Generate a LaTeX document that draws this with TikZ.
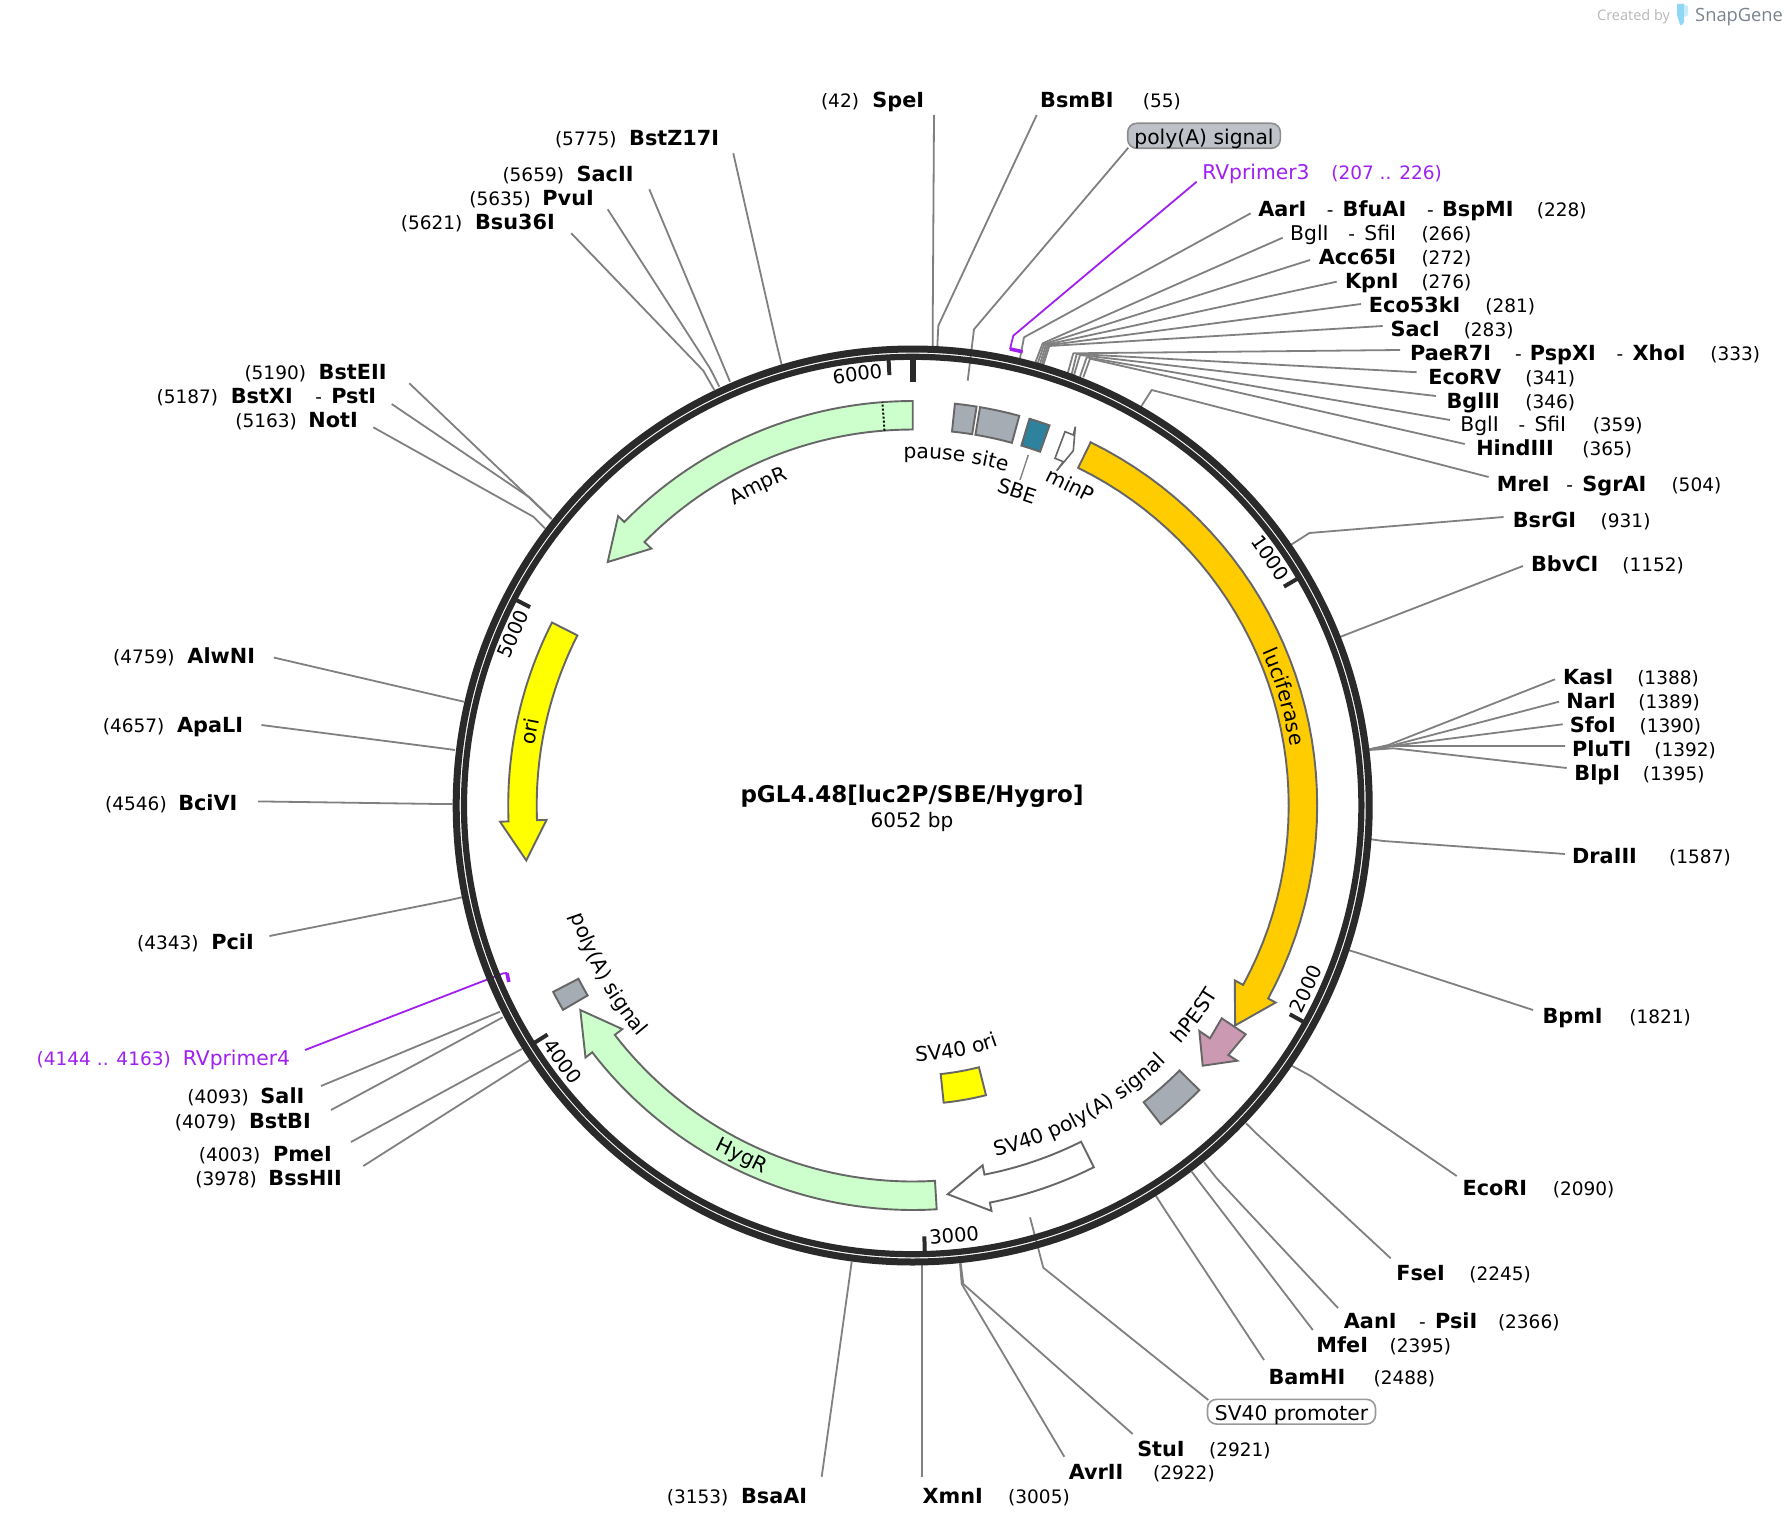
\documentclass[tikz,border=0pt]{standalone}
\usepackage{fontspec}
\setmainfont{DejaVu Sans}
\newfontfamily\markfont{Open Sans}
\usetikzlibrary{decorations.text}
\newlength\du \du=1.1416pt
\newcommand\sg[2]{\makebox[#1\du][l]{#2}}
\newcommand\B[1]{{\fontsize{20.8}{22}\selectfont\bfseries #1}}
\newcommand\R[1]{{\fontsize{20.3}{22}\selectfont #1}}
\newcommand\T[1]{{\fontsize{19.5}{22}\selectfont #1}}
\newcommand\lab[5][black]{\node[lbl,text=#1] (#2) at ({#3*1.1416},{#4*1.1416+7.3}) {#5};}
\newcommand\site[4]{\coordinate (#1o) at #2; \coordinate (#1e) at #3; \coordinate (#1c) at #4; \draw[leader] (#1o) -- (#1e) -- (#1c);}
\newcommand\arrowfeat[4]{%
 \draw[feat,fill=#4] plot[domain=#1:#2,samples=40,variable=\ang]({912.7+404.5*sin(\ang)},{805.5-404.5*cos(\ang)})
 -- ({912.7+413*sin(#2)},{805.5-413*cos(#2)})
 -- ({912.7+390.3*sin(#3)},{805.5-390.3*cos(#3)})
 -- ({912.7+366.5*sin(#2)},{805.5-366.5*cos(#2)})
 -- plot[domain=#2:#1,samples=40,variable=\ang]({912.7+376*sin(\ang)},{805.5-376*cos(\ang)}) -- cycle;}
\newcommand\blockfeat[5]{%
 \draw[feat,fill=#5] plot[domain=#1:#2,samples=12,variable=\ang]({912.7+#4*sin(\ang)},{805.5-#4*cos(\ang)})
 -- plot[domain=#2:#1,samples=12,variable=\ang]({912.7+#3*sin(\ang)},{805.5-#3*cos(\ang)}) -- cycle;}
\newcommand\curvetext[4]{\path[decorate,decoration={text along path,text align=center,text={|\fontsize{20.3}{22}\selectfont|#4}}] plot[domain=#1:#2,samples=40,variable=\ang]({912.7+#3*sin(\ang)},{805.5-#3*cos(\ang)});}
\newcommand\rlab[5]{\node[rl,rotate=#4] (#1) at ({912.7+#3*sin(#2)},{805.5-#3*cos(#2)}) {#5};}
\newcommand\tick[1]{\draw[tickline] ({912.7+431*sin(#1)},{805.5-431*cos(#1)}) -- ({912.7+448*sin(#1)},{805.5-448*cos(#1)});}
\definecolor{ringc}{HTML}{2A2A2A}
\definecolor{leadc}{HTML}{808080}
\definecolor{purp}{HTML}{A020F0}
\definecolor{featgray}{HTML}{A6ACB4}
\definecolor{green1}{HTML}{CCFFCC}
\definecolor{orange1}{HTML}{FFCC00}
\definecolor{yellow1}{HTML}{FFFF00}
\definecolor{pink1}{HTML}{CC99B2}
\definecolor{teal1}{HTML}{2E829E}
\definecolor{boxgray}{HTML}{BEC2C8}
\definecolor{snapc}{HTML}{7A838C}
\definecolor{tube1}{HTML}{8FD8F5}
\definecolor{tube2}{HTML}{C4ECFB}
\tikzset{
 lbl/.style={anchor=base west,inner sep=0pt,font=\fontsize{18.5}{22}\selectfont},
 rl/.style={anchor=base,inner sep=0pt,font=\fontsize{20.3}{22}\selectfont},
 leader/.style={draw=leadc,line width=1.8pt,line join=round},
 primer/.style={draw=purp,line width=1.8pt,line join=round},
 bracket/.style={draw=purp,line width=3.6pt},
 feat/.style={draw=black!60,line width=1.9pt,line join=miter},
 tickline/.style={draw=ringc,line width=4pt},
 tag/.style={rounded corners=9pt,inner sep=0pt,font=\fontsize{20.3}{22}\selectfont,line width=1.6pt,text height=17pt,text depth=0pt}
}
\begin{document}
\begin{tikzpicture}[x=1pt,y=-1pt]
\useasboundingbox (0,0) rectangle (1790,1530);
\fill[white] (0,0) rectangle (1790,1530);
% leaders (under the ring)
\site{SpeI}{(934,115)}{(932.7,326.7)}{(932.7,347)}
\site{BsmBI}{(1036.7,115)}{(938.3,325.7)}{(937.3,347)}
\site{polyA}{(1128.3,147.7)}{(974,329.3)}{(967.7,380.7)}
\site{AarI}{(1250.7,213.3)}{(1024,337.3)}{(1020,358.3)}
\site{BglIa}{(1282.7,237.7)}{(1042.7,343.3)}{(1035,363.3)}
\site{Acc}{(1310,260)}{(1044.3,344)}{(1037.7,363.3)}
\site{Kpn}{(1336.7,281.7)}{(1046,344.7)}{(1040,364)}
\site{Eco53}{(1361,304)}{(1047.7,345.3)}{(1041.7,365)}
\site{SacI}{(1382.7,326)}{(1049.3,346)}{(1043.3,365)}
\site{PaeR}{(1400,350)}{(1073.3,353.3)}{(1067.7,373.3)}
\site{EcoRV}{(1416.7,372.2)}{(1076.7,354)}{(1071.7,374)}
\site{BglII}{(1436,396)}{(1080,355)}{(1074,375)}
\site{BglIb}{(1450,420)}{(1086.7,357.3)}{(1080,376.7)}
\site{Hind}{(1464.7,444)}{(1090,358.7)}{(1083.3,377.3)}
\site{MreI}{(1488.6,477)}{(1151.7,390)}{(1141,406.7)}
\site{BsrGI}{(1503.5,517)}{(1309.4,533)}{(1291.2,544.6)}
\site{BbvCI}{(1522.9,566)}{(1345,635)}{(1340,637)}
\site{KasI}{(1555,679.3)}{(1388.3,745)}{(1369.3,749.3)}
\site{NarI}{(1559,701.7)}{(1390,746)}{(1369.3,749.3)}
\site{SfoI}{(1562.7,724.3)}{(1391.7,746)}{(1369.3,749.6)}
\site{PluTI}{(1565,746)}{(1393.3,746)}{(1369.3,749.3)}
\site{BlpI}{(1566.7,768)}{(1393.3,748.3)}{(1369.3,750)}
\site{DraIII}{(1565,854)}{(1383.3,841)}{(1371,839.3)}
\site{BpmI}{(1533,1010)}{(1358,953)}{(1348,950)}
\site{EcoRI}{(1456.7,1176)}{(1310.7,1076)}{(1291.7,1065.7)}
\site{FseI}{(1390.7,1258.3)}{(1258,1135)}{(1246,1123.3)}
\site{AanI}{(1338,1308)}{(1216.7,1178.3)}{(1204,1162.3)}
\site{MfeI}{(1312.8,1330)}{(1203,1186.7)}{(1191.7,1171.7)}
\site{BamHI}{(1264,1360)}{(1165,1210)}{(1156,1196)}
\site{SVprom}{(1208.3,1400)}{(1043.3,1267.7)}{(1030,1217.3)}
\site{StuI}{(1132.7,1434)}{(963.3,1284)}{(960.7,1263.3)}
\site{AvrII}{(1064.3,1456.7)}{(961.7,1284)}{(960,1263.3)}
\site{XmnI}{(921.7,1476.7)}{(921.7,1400)}{(921.7,1265)}
\site{BsaAI}{(821.7,1476.7)}{(845,1310)}{(851.7,1261.7)}
\site{BstZ}{(733.3,153.3)}{(776,341.7)}{(781.7,365)}
\site{SacII}{(649.3,189.3)}{(722,362.6)}{(730,381.7)}
\site{PvuI}{(607.7,209.3)}{(710,368.3)}{(719.3,386.7)}
\site{Bsu}{(571.3,233.3)}{(703.3,370.7)}{(714.3,390)}
\site{BstEII}{(409.3,383.3)}{(540,507.9)}{(551.7,519)}
\site{BstXI}{(391.7,404)}{(530,497.7)}{(551.7,519)}
\site{NotI}{(373.3,427.3)}{(533.3,516.7)}{(545,528.3)}
\site{AlwNI}{(274,657.6)}{(450,698.5)}{(464,701.7)}
\site{ApaLI}{(261.4,725)}{(440,748)}{(455,750)}
\site{BciVI}{(258,801.4)}{(440,804)}{(452.3,804)}
\site{PciI}{(269.4,936)}{(450,900)}{(461.7,897.3)}
\site{SalI}{(321,1086)}{(400,1053.3)}{(500,1011.7)}
\site{BstBI}{(331,1110)}{(420,1062)}{(502.7,1017.3)}
\site{PmeI}{(351,1142)}{(440,1093.5)}{(521.7,1049)}
\site{BssHII}{(363.3,1166)}{(450,1110.9)}{(530,1060)}
\coordinate (SBEa) at (1028.3,455); \coordinate (SBEb) at (1020,480);
\draw[leader,line width=1.4pt] (SBEa) -- (SBEb);
% primers
\coordinate (RV3o) at (1196.7,181.7); \coordinate (RV3e) at (1013.3,335.7); \coordinate (RV3c) at (1010,349); \coordinate (RV3d) at (1022.7,351.7);
\draw[primer] (RV3o) -- (RV3e) -- (RV3c);
\draw[bracket] (RV3c) -- (RV3d);
\coordinate (RV4o) at (305,1050); \coordinate (RV4e) at (503.3,973.3); \coordinate (RV4c) at (507,973); \coordinate (RV4d) at (508.8,982);
\draw[primer] (RV4o) -- (RV4e) -- (RV4c);
\draw[bracket] (RV4c) -- (RV4d);
% ring
\draw[ringc,line width=7pt] (912.7,805.5) circle[radius=456.5];
\draw[ringc,line width=6.2pt] (912.7,805.5) circle[radius=448.7];
% ticks
\tick{356.9}\tick{59.48}\tick{118.97}\tick{178.45}\tick{237.9}\tick{297.4}
\draw[ringc,line width=5.7pt] (912.7,355) -- (912.7,381.7);
\rlab{t6000}{352.7}{428}{7.3}{\T{6000}}
\rlab{t1000}{55.3}{428}{-55.3}{\T{1000}}
\rlab{t2000}{115}{441}{65}{\T{2000}}
\rlab{t3000}{174.5}{439}{5.5}{\T{3000}}
\rlab{t4000}{233.8}{441}{-53.8}{\T{4000}}
\rlab{t5000}{293.2}{428}{66.8}{\T{5000}}
% features
\arrowfeat{360}{314.5}{308.6}{green1}
\draw[black,line width=2pt,dash pattern=on 2pt off 2pt] ({912.7+376*sin(355.7)},{805.5-376*cos(355.7)}) -- ({912.7+404.5*sin(355.7)},{805.5-404.5*cos(355.7)});
\arrowfeat{296.9}{267.75}{261.9}{yellow1}
\arrowfeat{26.1}{118.5}{124.3}{orange1}
\arrowfeat{153.4}{169}{174.85}{white}
\arrowfeat{176.6}{232.4}{238.4}{green1}
\blockfeat{6.0}{9.1}{376}{404}{featgray}
\blockfeat{9.6}{15.3}{376}{404}{featgray}
\blockfeat{16.8}{19.8}{376}{404}{teal1}
\blockfeat{134.8}{142.1}{376}{404}{featgray}
\blockfeat{239.7}{242.6}{376.5}{405}{featgray}
\blockfeat{165.8}{174.05}{270}{298.8}{yellow1}
\draw[feat,fill=pink1] (1221.7,1018.3) -- (1210,1038.3) -- (1199.3,1031) -- (1202.7,1065.7) -- (1237.3,1060.7) -- (1228.3,1055) -- (1245.7,1034.3) -- cycle;
\draw[feat,fill=white,line width=1.6pt] (1065,431.7) -- (1073.3,435) -- (1075.3,426.7) -- (1073.3,450.7) -- (1056.7,470.7) -- (1063.3,461.7) -- (1055,458.3) -- cycle;
% feature labels
\curvetext{320}{348.4}{349}{AmpR}
\curvetext{-8}{22.2}{347}{pause site}
\rlab{SBE}{18.4}{324}{-18.4}{SBE}
\rlab{minP}{26.2}{350}{-26.2}{minP}
\curvetext{60}{87.4}{382}{luciferase}
\curvetext{147}{106.4}{359}{hPEST}
\curvetext{182}{120}{361}{SV40 poly(A) signal}
\curvetext{190}{149.6}{255.5}{SV40 ori}
\rlab{ori}{281}{383}{79}{ori}
\rlab{HygR}{206}{396}{-26}{HygR}
\curvetext{260}{222}{359}{poly(A) signal}
% centre
\node[inner sep=0pt,font=\fontsize{23}{26}\selectfont\bfseries] (title) at (912,796.5) {pGL4.48[luc2P/SBE/Hygro]};
\node[inner sep=0pt,font=\fontsize{20}{24}\selectfont] (size) at (912,821.5) {6052 bp};
% tags
\node[tag,draw=black!45,fill=boxgray,minimum width=152.6pt,minimum height=25pt] (tagA) at (1204,135.8) {poly(A) signal};
\node[tag,draw=black!40,fill=white,minimum width=168pt,minimum height=24.7pt] (tagB) at (1291.5,1411.7) {SV40 promoter};
% enzyme labels
\lab{lSpeI}{719}{88}{\sg{45}{(42)}\B{SpeI}}
\lab{lBsmBI}{911}{88}{\sg{90}{\B{BsmBI}}(55)}
\lab[purp]{lRV3}{1053}{151}{\sg{113}{\R{RVprimer3}}(207 .. 226)}
\lab{lAarI}{1102}{183}{\sg{60}{\B{AarI}}\sg{14}{-}\sg{74}{\B{BfuAI}}\sg{13}{-}\sg{83}{\B{BspMI}}(228)}
\lab{lBglIa}{1130}{204}{\sg{51}{\R{BglI}}\sg{14}{-}\sg{50}{\R{SfiI}}(266)}
\lab{lAcc}{1155}{225}{\sg{90}{\B{Acc65I}}(272)}
\lab{lKpn}{1178}{246}{\sg{67}{\B{KpnI}}(276)}
\lab{lEco53}{1199}{267}{\sg{102}{\B{Eco53kI}}(281)}
\lab{lSacI}{1218}{288}{\sg{64}{\B{SacI}}(283)}
\lab{lPaeR}{1235}{309}{\sg{92}{\B{PaeR7I}}\sg{13}{-}\sg{76}{\B{PspXI}}\sg{14}{-}\sg{68}{\B{XhoI}}(333)}
\lab{lEcoRV}{1251}{330}{\sg{85}{\B{EcoRV}}(341)}
\lab{lBglII}{1267}{351}{\sg{69}{\B{BglII}}(346)}
\lab{lBglIb}{1279}{372}{\sg{51}{\R{BglI}}\sg{14}{-}\sg{51}{\R{SfiI}}(359)}
\lab{lHind}{1293}{393}{\sg{93}{\B{HindIII}}(365)}
\lab{lMreI}{1311}{424}{\sg{61}{\B{MreI}}\sg{14}{-}\sg{78}{\B{SgrAI}}(504)}
\lab{lBsrGI}{1325}{456}{\sg{77}{\B{BsrGI}}(931)}
\lab{lBbvCI}{1341}{494}{\sg{80}{\B{BbvCI}}(1152)}
\lab{lKasI}{1369}{593}{\sg{65}{\B{KasI}}(1388)}
\lab{lNarI}{1372}{614}{\sg{63}{\B{NarI}}(1389)}
\lab{lSfoI}{1375}{635}{\sg{61}{\B{SfoI}}(1390)}
\lab{lPluTI}{1377}{656}{\sg{72}{\B{PluTI}}(1392)}
\lab{lBlpI}{1379}{677}{\sg{60}{\B{BlpI}}(1395)}
\lab{lDraIII}{1377}{750}{\sg{85}{\B{DraIII}}(1587)}
\lab{lBpmI}{1351}{890}{\sg{76}{\B{BpmI}}(1821)}
\lab{lEcoRI}{1281}{1041}{\sg{79}{\B{EcoRI}}(2090)}
\lab{lFseI}{1223}{1115}{\sg{64}{\B{FseI}}(2245)}
\lab{lAanI}{1177}{1157}{\sg{66}{\B{AanI}}\sg{14}{-}\sg{55}{\B{PsiI}}(2366)}
\lab{lMfeI}{1153}{1178}{\sg{64}{\B{MfeI}}(2395)}
\lab{lBamHI}{1111}{1206}{\sg{92}{\B{BamHI}}(2488)}
\lab{lStuI}{996}{1269}{\sg{63}{\B{StuI}}(2921)}
\lab{lAvrII}{936}{1290}{\sg{74}{\B{AvrII}}(2922)}
\lab{lXmnI}{808}{1311}{\sg{75}{\B{XmnI}}(3005)}
\lab{lBsaAI}{584}{1311}{\sg{65}{(3153)}\B{BsaAI}}
\lab{lBstZ}{486}{121}{\sg{65}{(5775)}\B{BstZ17I}}
\lab{lSacII}{440}{153}{\sg{65}{(5659)}\B{SacII}}
\lab{lPvuI}{411}{174}{\sg{64}{(5635)}\B{PvuI}}
\lab{lBsu}{351}{195}{\sg{65}{(5621)}\B{Bsu36I}}
\lab{lBstEII}{214}{326}{\sg{65}{(5190)}\B{BstEII}}
\lab{lBstXI}{137}{347}{\sg{65}{(5187)}\sg{74}{\B{BstXI}}\sg{14}{-}\B{PstI}}
\lab{lNotI}{206}{368}{\sg{64}{(5163)}\B{NotI}}
\lab{lAlwNI}{99}{575}{\sg{65}{(4759)}\B{AlwNI}}
\lab{lApaLI}{90}{635}{\sg{65}{(4657)}\B{ApaLI}}
\lab{lBciVI}{92}{704}{\sg{64}{(4546)}\B{BciVI}}
\lab{lPciI}{120}{825}{\sg{65}{(4343)}\B{PciI}}
\lab[purp]{lRV4}{32}{927}{\sg{128}{(4144 .. 4163)}\R{RVprimer4}}
\lab{lSalI}{164}{960}{\sg{64}{(4093)}\B{SalI}}
\lab{lBstBI}{153}{982}{\sg{65}{(4079)}\B{BstBI}}
\lab{lPmeI}{174}{1011}{\sg{65}{(4003)}\B{PmeI}}
\lab{lBssHII}{171}{1032}{\sg{64}{(3978)}\B{BssHII}}
% watermark
\node[anchor=base west,inner sep=0pt,text=black!28,font=\markfont\fontsize{14.5}{16}\selectfont] (created) at (1597,20.5) {Created by};
\node[anchor=base west,inner sep=0pt,text=snapc,font=\markfont\fontsize{18.3}{22}\selectfont] (snap) at (1695,22) {SnapGene};
\fill[tube1] (1677,4) -- (1684,4) -- (1684,22) -- (1682,25) -- (1680,25) -- (1677,15) -- cycle;
\fill[tube2] (1684,5) -- (1688,6) -- (1688,15) -- (1685,17) -- (1684,16) -- cycle;
\end{tikzpicture}
\end{document}
